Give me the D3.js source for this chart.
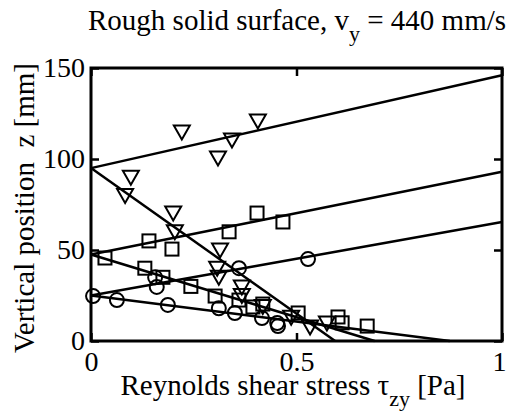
<!DOCTYPE html>
<html>
<head>
<meta charset="utf-8">
<script src="https://cdn.jsdelivr.net/npm/d3@7"></script>
<style>
  body { margin: 0; background: #fff; }
</style>
</head>
<body>
<div id="chart"></div>
<script>
// measured points: x = shear stress [Pa], z = height [mm]
var triX = [0.221, 0.406, 0.343, 0.309, 0.097, 0.083, 0.200, 0.204, 0.314, 0.307, 0.311, 0.367, 0.367, 0.418, 0.487, 0.533, 0.574];
var triZ = [114.8, 120.9, 110.4, 100.5, 90, 80, 70.3, 60, 50, 40, 35, 29.7, 25, 19, 13, 7.7, 9.9];

var sqX = [0.034, 0.141, 0.197, 0.336, 0.404, 0.467, 0.131, 0.175, 0.243, 0.302, 0.360, 0.394, 0.418, 0.504, 0.601, 0.611, 0.672];
var sqZ = [45.6, 55, 50.5, 60, 70.3, 65.4, 40, 35, 30, 24.7, 22.5, 18.7, 20.3, 15.4, 13.2, 10, 8.2];

var circX = [0.005, 0.063, 0.187, 0.156, 0.160, 0.360, 0.311, 0.350, 0.416, 0.453, 0.455, 0.528];
var circZ = [24.7, 22.5, 19.8, 35, 29.7, 40, 18, 15.4, 12.6, 9.9, 8.2, 45];

// fitted lines, [x0, z0, x1, z1]
var fitLines = [
  [0, 95, 1, 146],
  [0, 95, 0.594, 0],
  [0, 47.5, 1, 93],
  [0, 47.5, 0.69, 0],
  [0, 25, 1, 65.4],
  [0, 25, 0.873, 0]
];

var xTicks = [0, 0.5, 1];
var yTicks = [0, 50, 100, 150];

var serif = "'Liberation Serif', 'DejaVu Serif', 'Times New Roman', serif";

var margin = {top: 68, right: 4, bottom: 75, left: 91},
    width = 506 - margin.left - margin.right,
    height = 416 - margin.top - margin.bottom;

var x = d3.scaleLinear().domain([0, 1]).range([0, width]);
var y = d3.scaleLinear().domain([0, 150]).range([height, 0]);

var svg = d3.select("#chart").append("svg")
    .attr("width", 506)
    .attr("height", 416)
    .attr("font-family", serif);

var g = svg.append("g")
    .attr("transform", "translate(" + margin.left + "," + margin.top + ")");

// inward ticks on all four sides
var tickLen = 8;
g.append("g").call(d3.axisLeft(y).tickValues(yTicks).tickSize(-tickLen).tickPadding(6).tickFormat(d3.format("d")))
    .call(function(a) { a.select(".domain").remove(); });
g.append("g").attr("transform", "translate(" + width + ",0)")
    .call(d3.axisRight(y).tickValues(yTicks).tickSize(-tickLen).tickFormat(""))
    .call(function(a) { a.select(".domain").remove(); });
g.append("g").attr("transform", "translate(0," + height + ")")
    .call(d3.axisBottom(x).tickValues(xTicks).tickSize(-tickLen).tickPadding(10).tickFormat(function(d) { return d === 0.5 ? "0.5" : d3.format("d")(d); }))
    .call(function(a) {
      a.select(".domain").remove();
      // last label sits at the window edge
      a.selectAll(".tick text").filter(function(d) { return d === 1; }).attr("text-anchor", "end").attr("x", 4);
    });
g.append("g")
    .call(d3.axisTop(x).tickValues(xTicks).tickSize(-tickLen).tickFormat(""))
    .call(function(a) { a.select(".domain").remove(); });
g.selectAll(".tick line").attr("stroke", "#000").attr("stroke-width", 2.5);
g.selectAll("g").attr("font-family", serif).attr("font-size", 28);
g.selectAll(".tick text").attr("fill", "#000");

// frame
g.append("rect")
    .attr("width", width).attr("height", height)
    .attr("fill", "none").attr("stroke", "#000").attr("stroke-width", 3);

// fit lines
g.selectAll(".fit").data(fitLines).enter().append("line")
    .attr("class", "fit")
    .attr("x1", function(d) { return x(d[0]); })
    .attr("y1", function(d) { return y(d[1]); })
    .attr("x2", function(d) { return x(d[2]); })
    .attr("y2", function(d) { return y(d[3]); })
    .attr("stroke", "#000").attr("stroke-width", 2.5);

function pts(xs, zs) { return xs.map(function(v, i) { return [v, zs[i]]; }); }

// markers
g.selectAll(".tri").data(pts(triX, triZ)).enter().append("path")
    .attr("class", "tri")
    .attr("d", "M-8,-6.5L8,-6.5L0,7.5Z")
    .attr("transform", function(d) { return "translate(" + x(d[0]) + "," + y(d[1]) + ")"; })
    .attr("fill", "none").attr("stroke", "#000").attr("stroke-width", 2);

g.selectAll(".sq").data(pts(sqX, sqZ)).enter().append("rect")
    .attr("class", "sq")
    .attr("x", function(d) { return x(d[0]) - 6.5; })
    .attr("y", function(d) { return y(d[1]) - 6.5; })
    .attr("width", 13).attr("height", 13)
    .attr("fill", "none").attr("stroke", "#000").attr("stroke-width", 2);

g.selectAll(".circ").data(pts(circX, circZ)).enter().append("circle")
    .attr("class", "circ")
    .attr("cx", function(d) { return x(d[0]); })
    .attr("cy", function(d) { return y(d[1]); })
    .attr("r", 7)
    .attr("fill", "none").attr("stroke", "#000").attr("stroke-width", 2);

// title
var title = svg.append("text")
    .attr("x", 88).attr("y", 30)
    .attr("fill", "#000")
    .attr("font-size", 29);
title.append("tspan").text("Rough solid surface, v");
title.append("tspan").attr("dy", 11).attr("font-size", 22).text("y");
title.append("tspan").attr("dy", -11).text(" = 440 mm/s");

// x label
var xl = svg.append("text")
    .attr("x", 293).attr("y", 395)
    .attr("text-anchor", "middle")
    .attr("fill", "#000")
    .attr("font-size", 29);
xl.append("tspan").text("Reynolds shear stress \u03c4");
xl.append("tspan").attr("dy", 11).attr("font-size", 22).text("zy");
xl.append("tspan").attr("dy", -11).text(" [Pa]");

// y label
svg.append("text")
    .attr("transform", "translate(34,208) rotate(-90)")
    .attr("text-anchor", "middle")
    .attr("fill", "#000")
    .attr("font-size", 29)
    .style("white-space", "pre")
    .text("Vertical position  z [mm]");
</script>
</body>
</html>
